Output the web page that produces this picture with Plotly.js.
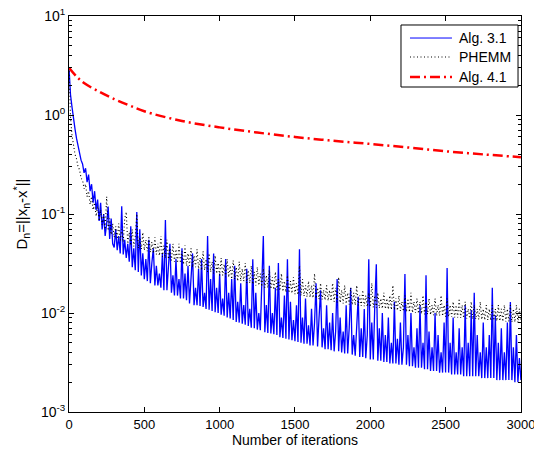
<!DOCTYPE html>
<html>
<head>
<meta charset="utf-8">
<script src="https://cdn.plot.ly/plotly-3.0.1.min.js"></script>
<style>html,body{margin:0;padding:0;background:#fff;}#chart{width:534px;height:454px;}</style>
</head>
<body>
<div id="chart"></div>
<script>
// sampling grid: every 10 iterations, 0..3000
const step = 10;

// Alg. 3.1 (blue, solid) values at iterations 0,10,...,3000
const alg31 = [
3.0,1.6,1.2,0.88,0.72,0.58,0.48,0.42,0.35,0.32,
0.26,0.29,0.21,0.25,0.17,0.2,0.13,0.17,0.11,0.14,
0.085,0.13,0.07,0.1,0.06,0.08,0.119,0.056,0.09,0.05,
0.046,0.07,0.043,0.06,0.04,0.12,0.039,0.055,0.036,0.05,
0.033,0.075,0.029,0.045,0.027,0.105,0.026,0.07,0.024,0.04,
0.022,0.035,0.021,0.055,0.02,0.032,0.045,0.019,0.03,0.019,
0.025,0.018,0.04,0.017,0.087,0.017,0.028,0.05,0.016,0.024,
0.015,0.035,0.015,0.022,0.014,0.045,0.014,0.025,0.0135,0.03,
0.0125,0.02,0.04,0.012,0.018,0.012,0.028,0.0118,0.035,0.0115,
0.016,0.011,0.06,0.0108,0.022,0.0105,0.04,0.0102,0.018,0.01,
0.025,0.0096,0.014,0.0094,0.035,0.009,0.016,0.0088,0.022,0.0085,
0.03,0.0081,0.013,0.008,0.02,0.0078,0.012,0.0076,0.028,0.0074,
0.011,0.0071,0.035,0.007,0.016,0.0068,0.01,0.0067,0.022,0.06,
0.0064,0.012,0.0063,0.03,0.0062,0.01,0.0061,0.018,0.006,0.032,
0.0057,0.009,0.0056,0.015,0.0055,0.035,0.0054,0.013,0.0053,0.0085,
0.0052,0.012,0.0051,0.044,0.005,0.009,0.0049,0.014,0.0049,0.0075,
0.0047,0.011,0.0047,0.008,0.02,0.0046,0.009,0.017,0.0045,0.007,
0.0043,0.012,0.0043,0.008,0.0042,0.01,0.0041,0.0065,0.022,0.0041,
0.009,0.004,0.0065,0.0039,0.012,0.0039,0.007,0.018,0.0038,0.006,
0.0037,0.009,0.0146,0.0036,0.007,0.0036,0.011,0.0035,0.006,0.035,
0.0034,0.008,0.0034,0.012,0.031,0.0033,0.007,0.0033,0.01,0.0032,
0.006,0.0032,0.009,0.0031,0.005,0.0031,0.013,0.0031,0.0055,0.003,
0.008,0.003,0.0045,0.0248,0.003,0.006,0.0029,0.01,0.0029,0.0045,
0.0028,0.007,0.0028,0.012,0.0028,0.005,0.0027,0.024,0.0027,0.0065,
0.0026,0.0045,0.0026,0.01,0.0026,0.006,0.0025,0.004,0.0025,0.008,
0.0025,0.0285,0.0025,0.005,0.0024,0.009,0.0024,0.004,0.0024,0.007,
0.0024,0.0045,0.0023,0.012,0.0023,0.005,0.0023,0.0107,0.0023,0.016,
0.0023,0.006,0.0023,0.004,0.0022,0.008,0.0022,0.0045,0.0022,0.006,
0.0022,0.018,0.0022,0.0095,0.0021,0.005,0.0021,0.007,0.0021,0.004,
0.0021,0.008,0.0021,0.0129,0.0021,0.0045,0.002,0.006,0.002,0.0035,
0.0021
];

// PHEMM (black, dotted) values at iterations 0,10,...,3000
const phemm = [
3.0,0.95,0.62,0.5,0.4,0.36,0.3,0.28,0.23,0.22,
0.18,0.2,0.15,0.17,0.125,0.15,0.11,0.13,0.095,0.12,
0.085,0.11,0.078,0.1,0.07,0.15,0.068,0.09,0.062,0.08,
0.058,0.075,0.056,0.08,0.054,0.07,0.052,0.09,0.105,0.05,
0.065,0.048,0.07,0.047,0.06,0.1,0.045,0.058,0.044,0.065,
0.043,0.055,0.042,0.06,0.041,0.052,0.04,0.058,0.039,0.05,
0.038,0.06,0.037,0.048,0.036,0.055,0.035,0.045,0.034,0.05,
0.033,0.044,0.032,0.05,0.032,0.042,0.031,0.048,0.03,0.04,
0.03,0.045,0.029,0.038,0.029,0.044,0.028,0.036,0.027,0.042,
0.027,0.035,0.026,0.04,0.026,0.033,0.025,0.038,0.025,0.032,
0.024,0.036,0.024,0.031,0.023,0.035,0.023,0.03,0.022,0.034,
0.022,0.029,0.021,0.033,0.021,0.028,0.021,0.032,0.02,0.027,
0.02,0.03,0.0195,0.026,0.019,0.029,0.019,0.025,0.0185,0.028,
0.018,0.024,0.018,0.027,0.0175,0.023,0.0172,0.026,0.017,0.022,
0.0168,0.025,0.0165,0.021,0.0162,0.024,0.016,0.021,0.0158,0.023,
0.0155,0.02,0.0153,0.03,0.015,0.022,0.0148,0.019,0.0146,0.021,
0.0144,0.019,0.0142,0.025,0.014,0.018,0.0138,0.02,0.0137,0.017,
0.0135,0.019,0.0133,0.017,0.0132,0.02,0.013,0.018,0.0128,0.023,
0.0127,0.017,0.0125,0.019,0.0124,0.016,0.0122,0.018,0.0121,0.016,
0.012,0.019,0.0119,0.015,0.0118,0.017,0.0117,0.015,0.0116,0.016,
0.0115,0.02,0.0114,0.015,0.0113,0.016,0.0112,0.014,0.0111,0.016,
0.011,0.014,0.0109,0.015,0.0108,0.019,0.0107,0.014,0.0106,0.015,
0.0105,0.013,0.0104,0.015,0.0103,0.014,0.0102,0.016,0.0101,0.013,
0.01,0.014,0.0099,0.013,0.0098,0.015,0.0097,0.013,0.0097,0.014,
0.0096,0.012,0.0095,0.014,0.0094,0.012,0.0094,0.015,0.0093,0.012,
0.0092,0.014,0.0092,0.012,0.0091,0.013,0.009,0.012,0.009,0.014,
0.0089,0.012,0.0089,0.013,0.0088,0.011,0.0088,0.013,0.0087,0.012,
0.0087,0.011,0.0086,0.013,0.0086,0.011,0.0085,0.012,0.0085,0.011,
0.0084,0.012,0.0084,0.011,0.0083,0.012,0.0083,0.011,0.0082,0.012,
0.0082,0.011,0.0082,0.012,0.0081,0.011,0.0081,0.012,0.008,0.011,
0.0085
];

// Alg. 4.1 (red, dash-dot)
const alg41Iter = [0,50,100,200,300,400,500,750,1000,1250,1500,1750,2000,2250,2500,2750,3000];
const alg41 = [3.0,2.45,2.1,1.72,1.45,1.25,1.09,0.87,0.75,0.665,0.6,0.55,0.51,0.47,0.43,0.40,0.375];

const seriesNames = ['Alg. 3.1', 'PHEMM', 'Alg. 4.1'];
const xTicks = [0,500,1000,1500,2000,2500,3000];
const yTickVals = [0.001,0.01,0.1,1,10];
const yTickText = ['10<sup>-3</sup>','10<sup>-2</sup>','10<sup>-1</sup>','10<sup>0</sup>','10<sup>1</sup>'];

const iters = alg31.map((_, i) => i * step);

const FONT = 'Liberation Sans, Arial, sans-serif';

const styles = [
  {color: '#0000ff', width: 1.3},
  {color: '#000000', width: 1.1, dash: '1px,2.5px'},
  {color: '#ff0000', width: 2.5, dash: '10px,4px,2px,4px'}
];

const traces = [
  {x: iters, y: alg31, name: seriesNames[0], mode: 'lines', line: styles[0]},
  {x: iters, y: phemm, name: seriesNames[1], mode: 'lines', line: styles[1]},
  {x: alg41Iter, y: alg41, name: seriesNames[2], mode: 'lines', line: Object.assign({shape: 'spline'}, styles[2])}
];

// custom legend (box, line samples, labels) in paper coordinates
const legendBox = {x0: 0.7345, x1: 0.9934, y0: 0.8207, y1: 0.9773};
const legendRows = [0.9444, 0.8965, 0.8460];
const shapes = [{type: 'rect', xref: 'paper', yref: 'paper', x0: legendBox.x0, x1: legendBox.x1,
                 y0: legendBox.y0, y1: legendBox.y1, line: {color: '#000', width: 1}, fillcolor: '#fff', layer: 'above'}];
const annotations = [];
legendRows.forEach((yy, i) => {
  const st = styles[i];
  shapes.push({type: 'line', xref: 'paper', yref: 'paper', x0: 0.7544, x1: 0.8473, y0: yy, y1: yy,
               line: {color: st.color, width: i === 0 ? 1 : st.width, dash: st.dash || 'solid'}, layer: 'above'});
  annotations.push({xref: 'paper', yref: 'paper', x: 0.8584, y: yy, xanchor: 'left', yanchor: 'middle',
                    text: seriesNames[i], showarrow: false, font: {family: FONT, size: 14, color: '#000'}});
});

const layout = {
  width: 534, height: 454,
  margin: {l: 69, r: 13, t: 16, b: 42},
  paper_bgcolor: '#fff', plot_bgcolor: '#fff',
  font: {family: FONT, size: 13, color: '#000'},
  showlegend: false,
  shapes: shapes,
  annotations: annotations,
  xaxis: {range: [0, 3000.5], tickvals: xTicks, ticktext: xTicks.map(String), ticks: 'inside', ticklen: 5,
          tickcolor: '#000', showline: true, linecolor: '#000', linewidth: 1, mirror: 'allticks',
          ticklabeloverflow: 'allow',
          showgrid: false, zeroline: false, tickfont: {family: FONT, size: 13, color: '#000'},
          title: {text: 'Number of iterations', font: {family: FONT, size: 14, color: '#000'}, standoff: 3}},
  yaxis: {type: 'log', range: [-3, 1], tickvals: yTickVals, ticktext: yTickText, ticks: 'inside', ticklen: 5,
          tickcolor: '#000', showline: true, linecolor: '#000', linewidth: 1, mirror: 'allticks',
          showgrid: false, zeroline: false, tickfont: {family: FONT, size: 14, color: '#000'},
          minor: {ticks: 'inside', ticklen: 3, tickcolor: '#000', tickvals: [0.002,0.003,0.004,0.005,0.006,0.007,0.008,0.009,0.02,0.03,0.04,0.05,0.06,0.07,0.08,0.09,0.2,0.3,0.4,0.5,0.6,0.7,0.8,0.9,2,3,4,5,6,7,8,9], showgrid: false},
          title: {text: 'D<sub>n</sub>=||x<sub>n</sub>-x<sup>*</sup>||', font: {family: FONT, size: 15, color: '#000'}, standoff: 9}}
};

Plotly.newPlot('chart', traces, layout, {displayModeBar: false, staticPlot: true});
</script>
</body>
</html>
